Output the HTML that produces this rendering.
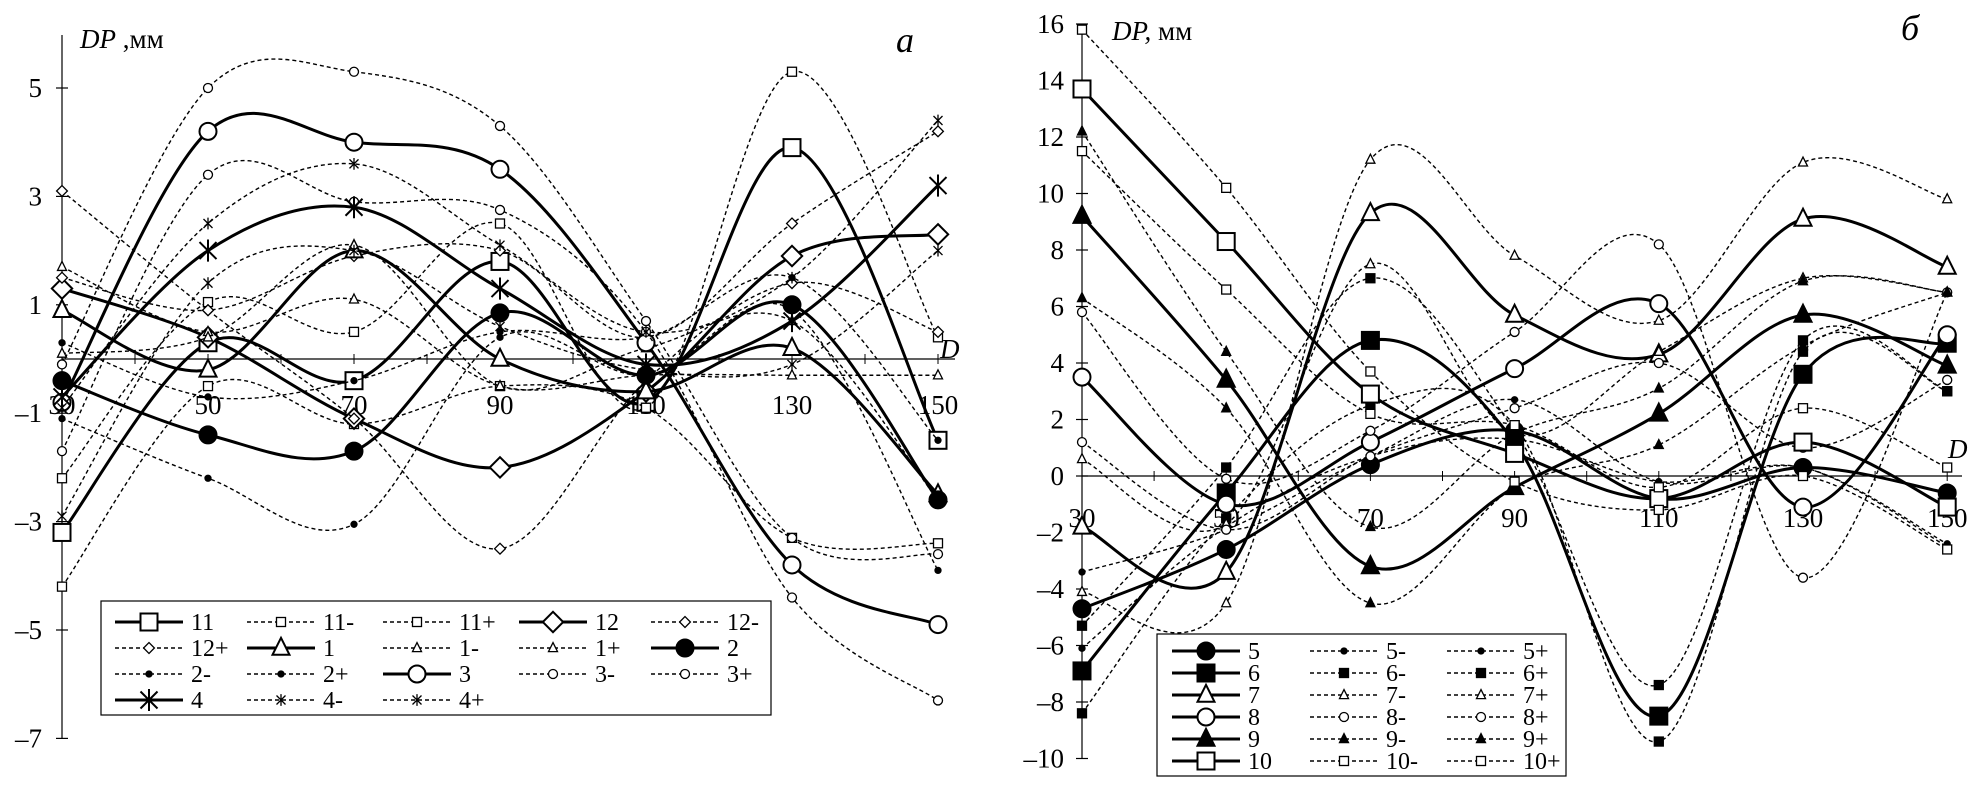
<!DOCTYPE html>
<html><head><meta charset="utf-8">
<style>
html,body{margin:0;padding:0;background:#fff;}
svg{display:block;font-family:"Liberation Serif",serif;}
</style></head>
<body>
<svg id="c" width="1978" height="797" viewBox="0 0 1978 797" xmlns="http://www.w3.org/2000/svg"></svg>
<script>
// ---------- shared categories ----------
const categories = [30, 50, 70, 90, 110, 130, 150];
const leftTicks = [5, 3, 1, -1, -3, -5, -7];
const rightTicks = [16, 14, 12, 10, 8, 6, 4, 2, 0, -2, -4, -6, -8, -10];

// ---------- left chart (a) ----------
const a11  = [-3.2, 0.3, -0.4, 1.8, -0.8, 3.9, -1.5];
const a11m = [-4.2, -0.5, -1.2, -0.5, -0.9, -3.3, -3.4];
const a11p = [-2.2, 1.05, 0.5, 2.5, -0.9, 5.3, 0.4];
const a12  = [1.3, 0.4, -1.1, -2.0, -0.6, 1.9, 2.3];
const a12m = [3.1, 0.9, -1.1, -3.5, -0.4, 1.4, 0.5];
const a12p = [1.5, 0.9, 1.9, 2.0, 0.4, 2.5, 4.2];
const a1   = [0.9, -0.2, 2.0, 0.0, -0.6, 0.2, -2.5];
const a1m  = [1.7, 0.5, 1.1, -0.5, -0.3, -0.3, -0.3];
const a1p  = [0.1, 0.4, 2.1, -0.5, 0.2, 0.7, -2.6];
const a2   = [-0.4, -1.4, -1.7, 0.85, -0.3, 1.0, -2.6];
const a2m  = [-1.1, -2.2, -3.05, 0.4, -0.3, 0.9, -3.9];
const a2p  = [0.3, -0.7, -0.4, 0.5, 0.4, 1.5, -1.5];
const a3   = [-0.8, 4.2, 4.0, 3.5, 0.3, -3.8, -4.9];
const a3m  = [-1.7, 3.4, 2.9, 2.75, 0.5, -4.4, -6.3];
const a3p  = [-0.1, 5.0, 5.3, 4.3, 0.7, -3.3, -3.6];
const a4   = [-0.7, 2.0, 2.8, 1.3, -0.1, 0.7, 3.2];
const a4m  = [-2.9, 1.4, 2.0, 0.6, -0.2, -0.1, 2.0];
const a4p  = [-0.9, 2.5, 3.6, 2.1, 0.5, 1.5, 4.4];

// ---------- right chart (б) ----------
const b5   = [-4.7, -2.6, 0.4, 1.6, -0.8, 0.3, -0.6];
const b5m  = [-3.4, -1.9, 0.7, 2.7, -0.2, 0.3, -2.4];
const b5p  = [-6.1, -1.8, 0.7, 1.3, -0.2, 0.3, -2.5];
const b6   = [-6.9, -0.6, 4.8, 1.2, -8.5, 3.6, 4.7];
const b6m  = [-5.3, 0.3, 7.0, 1.6, -7.4, 4.8, 3.0];
const b6p  = [-8.4, -1.5, 2.5, 1.8, -9.4, 4.4, 3.0];
const b7   = [-1.8, -3.4, 9.3, 5.7, 4.3, 9.1, 7.4];
const b7m  = [-4.1, -4.5, 11.2, 7.8, 5.5, 11.1, 9.8];
const b7p  = [0.6, -1.7, 7.5, 1.5, 4.4, 7.0, 6.5];
const b8   = [3.5, -1.0, 1.2, 3.8, 6.1, -1.1, 5.0];
const b8m  = [5.8, -0.1, 1.6, 5.1, 8.2, -3.6, 6.5];
const b8p  = [1.2, -1.9, 0.7, 2.4, 4.0, 1.0, 3.4];
const b9   = [9.2, 3.4, -3.2, -0.4, 2.2, 5.7, 3.9];
const b9m  = [6.3, 2.4, -4.5, -0.4, 1.1, 4.6, 6.5];
const b9p  = [12.2, 4.4, -1.8, 1.5, 3.1, 6.9, 6.5];
const b10  = [13.7, 8.3, 2.9, 0.8, -0.8, 1.2, -1.1];
const b10m = [15.8, 10.2, 3.7, -0.2, -1.2, 0.0, -2.6];
const b10p = [11.5, 6.6, 2.2, 1.8, -0.4, 2.4, 0.3];

const NS = "http://www.w3.org/2000/svg";
const svg = document.getElementById('c');
function mk(tag, attrs, parent) {
  const e = document.createElementNS(NS, tag);
  for (const k in attrs) e.setAttribute(k, attrs[k]);
  (parent || svg).appendChild(e);
  return e;
}

// axis functions
const xL = v => 62 + (v - 30) * 7.3;
const yL = v => 359 - v * 54.2;
const xR = v => 1082 + (v - 30) * 7.21;
const yR = v => 476 - v * 28.25;

function spline(pts) {
  let d = `M${pts[0][0]},${pts[0][1]}`;
  for (let i = 0; i < pts.length - 1; i++) {
    const p0 = pts[Math.max(0, i - 1)], p1 = pts[i], p2 = pts[i + 1], p3 = pts[Math.min(pts.length - 1, i + 2)];
    const t = 1 / 6;
    const c1x = p1[0] + (p2[0] - p0[0]) * t, c1y = p1[1] + (p2[1] - p0[1]) * t;
    const c2x = p2[0] - (p3[0] - p1[0]) * t, c2y = p2[1] - (p3[1] - p1[1]) * t;
    d += ` C${c1x},${c1y} ${c2x},${c2y} ${p2[0]},${p2[1]}`;
  }
  return d;
}

function marker(g, type, big, x, y) {
  const s = big ? 8.5 : 4.5;
  const sw = big ? 2 : 1.3;
  let e;
  if (type === 'sq' || type === 'sqf') {
    e = mk('rect', {x: x - s, y: y - s, width: 2 * s, height: 2 * s, fill: type === 'sqf' ? '#000' : '#fff', stroke: '#000', 'stroke-width': sw}, g);
  } else if (type === 'di') {
    e = mk('polygon', {points: `${x},${y - s * 1.2} ${x + s * 1.2},${y} ${x},${y + s * 1.2} ${x - s * 1.2},${y}`, fill: '#fff', stroke: '#000', 'stroke-width': sw}, g);
  } else if (type === 'tr' || type === 'trf') {
    e = mk('polygon', {points: `${x},${y - s * 1.2} ${x + s},${y + s * 0.8} ${x - s},${y + s * 0.8}`, fill: type === 'trf' ? '#000' : '#fff', stroke: '#000', 'stroke-width': sw}, g);
  } else if (type === 'ci' || type === 'cif') {
    e = mk('circle', {cx: x, cy: y, r: big ? s : (type === 'cif' ? 3 : s), fill: type === 'cif' ? '#000' : '#fff', stroke: '#000', 'stroke-width': sw}, g);
  } else if (type === 'st') {
    e = mk('path', {d: `M${x - s},${y - s}L${x + s},${y + s}M${x - s},${y + s}L${x + s},${y - s}M${x},${y - s * 1.3}L${x},${y + s * 1.3}`, stroke: '#000', 'stroke-width': sw, fill: 'none'}, g);
  }
  
  
}

function drawSeries(name, vals, type, big, fx, fy) {
  const g = mk('g', {});
  
  
  const pts = vals.map((v, i) => [fx(categories[i]), fy(v)]);
  const p = mk('path', {d: spline(pts), fill: 'none', stroke: '#000', 'stroke-width': big ? 3 : 1.4, 'stroke-dasharray': big ? 'none' : '4,3'}, g);
  
  
  pts.forEach(q => marker(g, type, big, q[0], q[1]));
}

function legendEntry(name, type, big, x, y) {
  const g = mk('g', {});
  
  
  mk('line', {x1: x, y1: y, x2: x + 68, y2: y, stroke: '#000', 'stroke-width': big ? 3 : 1.4, 'stroke-dasharray': big ? 'none' : '4,3'}, g);
  marker(g, type, big, x + 34, y);
  const t = mk('text', {x: x + 76, y: y + 8, 'font-size': 24}, g);
  t.textContent = name;
}

function axes(fx, fy, ticks, x0, top, bottom, xEnd, labelY, ylabX) {
  const g = mk('g', {});
  
  
  mk('line', {x1: x0, y1: top, x2: x0, y2: bottom, stroke: '#000', 'stroke-width': 1.2}, g);
  mk('line', {x1: x0, y1: fy(0), x2: xEnd, y2: fy(0), stroke: '#000', 'stroke-width': 1.2}, g);
  ticks.forEach(v => {
    mk('line', {x1: x0 - 6, y1: fy(v), x2: x0 + 6, y2: fy(v), stroke: '#000', 'stroke-width': 1.2}, g);
    const t = mk('text', {x: ylabX, y: fy(v) + 9, 'font-size': 27, 'text-anchor': 'end'}, g);
    
    
    t.textContent = v < 0 ? '\u2013' + (-v) : String(v);
  });
  for (let v = 40; v <= 150; v += 10) {
    mk('line', {x1: fx(v), y1: fy(0) - 5, x2: fx(v), y2: fy(0) + 5, stroke: '#000', 'stroke-width': 1}, g);
  }
  categories.forEach(c => {
    const t = mk('text', {x: fx(c), y: labelY, 'font-size': 27, 'text-anchor': 'middle'}, g);
    
    
    t.textContent = String(c);
  });
}

function txt(name, x, y, size, html, anchor) {
  const t = mk('text', {x: x, y: y, 'font-size': size, 'text-anchor': anchor || 'start'});
  
  
  t.innerHTML = html;
}

// ----- Left chart -----
axes(xL, yL, leftTicks, 62, 35, 738, 955, 414, 42);
const leftSeries = [
  ['11', a11, 'sq', true], ['11-', a11m, 'sq', false], ['11+', a11p, 'sq', false],
  ['12', a12, 'di', true], ['12-', a12m, 'di', false], ['12+', a12p, 'di', false],
  ['1', a1, 'tr', true], ['1-', a1m, 'tr', false], ['1+', a1p, 'tr', false],
  ['2', a2, 'cif', true], ['2-', a2m, 'cif', false], ['2+', a2p, 'cif', false],
  ['3', a3, 'ci', true], ['3-', a3m, 'ci', false], ['3+', a3p, 'ci', false],
  ['4', a4, 'st', true], ['4-', a4m, 'st', false], ['4+', a4p, 'st', false]
];
leftSeries.forEach(s => drawSeries('a-' + s[0], s[1], s[2], s[3], xL, yL));
txt('y-axis-title-a', 80, 48, 27, '<tspan font-style="italic">DP</tspan> ,мм');
txt('panel-label-a', 905, 52, 36, '<tspan font-style="italic">a</tspan>', 'middle');
txt('x-axis-title-a', 940, 358, 27, '<tspan font-style="italic">D</tspan>');
// left legend
const lg = mk('rect', {x: 101, y: 601, width: 670, height: 114, fill: '#fff', stroke: '#000', 'stroke-width': 1.2});


const lcols = [115, 247, 383, 519, 651];
const lrows = [622, 648, 674, 700];
leftSeries.forEach((s, i) => legendEntry(s[0], s[2], s[3], lcols[i % 5], lrows[Math.floor(i / 5)]));

// ----- Right chart -----
axes(xR, yR, rightTicks, 1082, 24, 758, 1962, 527, 1064);
const rightSeries = [
  ['5', b5, 'cif', true], ['5-', b5m, 'cif', false], ['5+', b5p, 'cif', false],
  ['6', b6, 'sqf', true], ['6-', b6m, 'sqf', false], ['6+', b6p, 'sqf', false],
  ['7', b7, 'tr', true], ['7-', b7m, 'tr', false], ['7+', b7p, 'tr', false],
  ['8', b8, 'ci', true], ['8-', b8m, 'ci', false], ['8+', b8p, 'ci', false],
  ['9', b9, 'trf', true], ['9-', b9m, 'trf', false], ['9+', b9p, 'trf', false],
  ['10', b10, 'sq', true], ['10-', b10m, 'sq', false], ['10+', b10p, 'sq', false]
];
rightSeries.forEach(s => drawSeries('b-' + s[0], s[1], s[2], s[3], xR, yR));
txt('y-axis-title-b', 1112, 40, 27, '<tspan font-style="italic">DP,</tspan> мм');
txt('panel-label-b', 1910, 40, 36, '<tspan font-style="italic">б</tspan>', 'middle');
txt('x-axis-title-b', 1948, 458, 27, '<tspan font-style="italic">D</tspan>');
const rg = mk('rect', {x: 1157, y: 634, width: 409, height: 142, fill: '#fff', stroke: '#000', 'stroke-width': 1.2});


const rcols = [1172, 1310, 1447];
const rrows = [651, 673, 695, 717, 739, 761];
rightSeries.forEach((s, i) => legendEntry(s[0], s[2], s[3], rcols[i % 3], rrows[Math.floor(i / 3)]));
</script>
</body></html>
